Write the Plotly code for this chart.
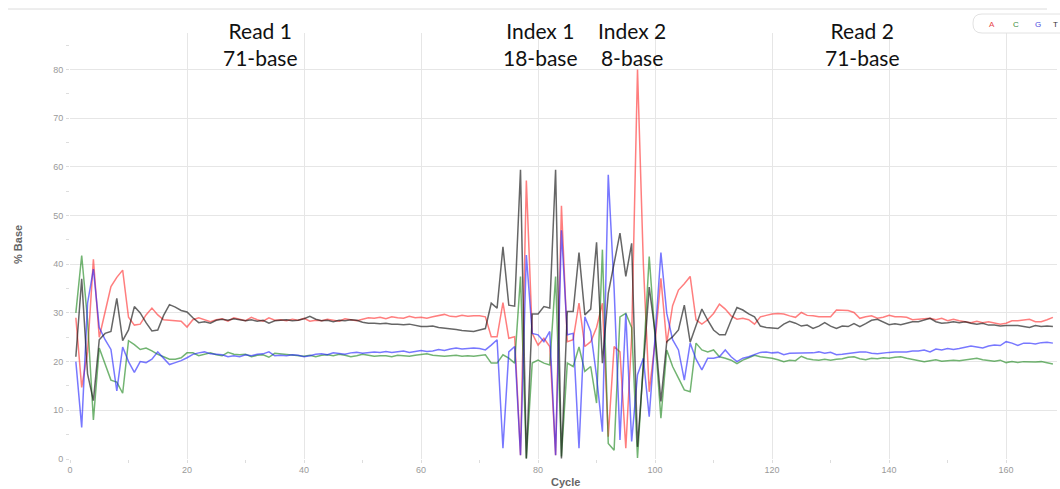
import plotly.graph_objects as go

# ---------------- data ----------------
cycles = list(range(1, 169))

pct_A = [
    29.0, 14.7, 22.0, 41.0, 25.0, 30.3, 35.4, 37.3, 38.8, 29.1,
    27.5, 27.7, 29.6, 31.0, 29.6, 28.6, 28.5, 28.5, 28.3, 27.1,
    28.6, 29.0, 28.6, 28.2, 28.6, 28.8, 28.3, 29.0, 28.7, 28.4,
    29.1, 28.6, 28.3, 29.0, 28.5, 28.6, 28.4, 28.7, 28.5, 28.9,
    28.3, 28.5, 28.4, 28.7, 28.5, 28.3, 28.8, 28.6, 28.4, 28.7,
    29.0, 28.9, 29.1, 28.8, 29.2, 29.0, 28.9, 29.3, 29.0, 29.1,
    28.9, 29.2, 29.4, 29.7, 29.3, 29.2, 29.5, 29.3, 29.4, 29.4,
    29.2, 25.1, 25.1, 32.1, 24.8, 25.1, 0.8, 57.2, 25.8, 23.4,
    24.8, 23.1, 0.8, 52.0, 24.1, 24.5, 32.0, 23.1, 24.1, 27.0,
    32.0, 4.6, 23.1, 22.0, 2.2, 25.0, 80.0, 40.0, 13.8, 24.0,
    37.1, 23.8, 31.5, 34.7, 36.0, 37.5, 28.6, 27.7, 28.6, 29.9,
    31.8, 30.8, 29.4, 28.7, 28.9, 28.6, 27.7, 29.2, 29.5, 29.8,
    29.9, 29.8, 29.4, 29.1, 30.1, 29.5, 29.4, 29.2, 29.2, 29.2,
    30.6, 30.6, 30.5, 30.1, 28.9, 29.2, 29.4, 28.9, 29.1, 29.5,
    29.2, 29.2, 29.1, 28.6, 28.7, 28.8, 28.9, 28.6, 28.9, 28.4,
    28.7, 28.4, 28.2, 28.0, 28.3, 28.0, 28.2, 27.9, 27.7, 27.9,
    28.4, 28.4, 28.6, 28.7, 28.2, 28.2, 28.6, 29.1,
]

pct_C = [
    30.0, 41.8, 28.5, 8.0, 22.8, 19.5, 16.2, 15.8, 13.5, 24.3,
    23.5, 22.5, 22.8, 22.2, 21.5, 21.0, 20.5, 20.5, 20.8, 21.8,
    21.8, 21.2, 21.5, 21.8, 21.4, 21.2, 21.9, 21.5, 21.4, 21.5,
    21.0, 21.3, 21.4, 20.9, 21.7, 21.6, 21.5, 21.4, 21.3, 21.1,
    21.3, 21.0, 21.3, 21.4, 21.2, 21.5, 21.3, 21.0, 21.2, 21.5,
    21.3, 21.1, 21.2, 21.2, 21.0, 21.3, 21.2, 21.1, 21.3, 21.4,
    21.6, 21.3, 21.2, 21.1, 21.2, 21.3, 21.1, 21.2, 21.1, 21.2,
    21.4, 19.7, 19.7, 21.4, 20.7, 19.7, 37.5, 0.1, 19.7, 20.3,
    19.7, 19.3, 37.5, 0.5, 19.7, 19.0, 23.0, 18.0, 19.0, 11.5,
    43.0, 3.2, 1.8, 29.2, 29.9, 27.0, 0.2, 20.0, 41.6, 25.0,
    8.4, 22.4, 19.0, 16.6, 14.2, 13.8, 23.8, 22.4, 22.0, 22.4,
    21.0, 20.7, 20.3, 19.6, 20.3, 20.8, 21.3, 21.0, 20.9, 20.7,
    20.4, 20.0, 20.3, 20.2, 21.1, 20.6, 20.4, 20.3, 20.5, 20.3,
    20.5, 20.6, 20.9, 21.0, 20.6, 20.4, 20.7, 20.6, 20.8, 20.7,
    20.9, 21.0, 20.7, 20.5, 20.2, 20.0, 20.2, 20.4, 20.1, 20.2,
    20.3, 20.2, 20.4, 20.6, 20.7, 20.4, 20.3, 20.1, 20.3, 19.8,
    20.0, 19.8, 20.0, 19.9, 19.9, 20.0, 19.8, 19.5,
]

pct_G = [
    20.0, 6.5, 32.0, 39.0, 27.0, 24.5, 22.5, 14.0, 23.0, 20.0,
    17.8, 20.0, 19.8, 20.5, 22.0, 20.8, 19.4, 19.8, 20.2, 20.8,
    21.5, 21.8, 22.0, 21.6, 21.5, 21.4, 21.0, 21.2, 21.0, 21.4,
    21.2, 21.5, 21.6, 22.0, 21.2, 21.3, 21.2, 21.4, 21.3, 21.0,
    21.2, 21.5, 21.6, 21.4, 21.8, 21.6, 21.5, 21.8, 21.9, 21.7,
    21.8, 22.0, 21.9, 22.1, 21.9, 22.0, 22.2, 21.9, 22.1, 22.3,
    22.1, 22.2, 22.5, 22.3, 22.6, 22.8, 22.6, 22.7, 22.8, 22.7,
    22.4, 23.4, 24.5, 2.2, 22.0, 23.1, 0.8, 41.9, 25.8, 25.5,
    24.1, 26.2, 0.8, 47.0, 25.5, 25.8, 2.2, 29.2, 26.2, 17.0,
    5.6, 58.4, 35.0, 3.9, 29.9, 3.6, 17.3, 20.7, 8.7, 25.0,
    42.4, 29.9, 24.5, 22.4, 16.2, 23.8, 20.5, 18.3, 20.7, 20.7,
    21.0, 22.4, 21.0, 20.0, 20.7, 21.0, 21.4, 21.9, 22.0, 21.8,
    21.9, 21.4, 21.7, 21.7, 21.8, 21.7, 21.8, 22.0, 21.7, 21.9,
    21.4, 21.5, 21.7, 21.8, 22.0, 22.0, 21.7, 21.6, 21.8, 21.9,
    22.0, 22.0, 22.0, 22.2, 22.2, 22.4, 22.0, 22.6, 22.4, 22.7,
    22.5, 22.7, 23.0, 23.2, 23.0, 22.8, 23.2, 23.4, 23.3, 24.1,
    23.8, 23.3, 23.8, 23.8, 23.6, 23.9, 24.0, 23.8,
]

pct_T = [
    21.0, 37.0, 17.5, 12.0, 24.5, 25.8, 26.2, 33.0, 24.3, 26.5,
    31.3, 30.0, 28.0, 26.3, 26.5, 29.5, 31.7, 31.2, 30.5, 30.2,
    29.0, 28.0, 28.2, 27.9, 28.5, 28.7, 28.5, 28.8, 28.6, 28.4,
    28.6, 28.3, 28.5, 27.9, 28.4, 28.5, 28.6, 28.4, 28.5, 28.8,
    29.3, 28.7, 28.4, 28.5, 28.2, 28.5, 28.4, 28.6, 28.5, 28.1,
    27.9, 27.9, 27.8, 27.9, 27.7, 27.7, 27.6, 27.7, 27.5, 27.2,
    27.2, 27.3, 27.0, 26.9, 26.7, 26.6, 26.4, 26.3, 26.2, 26.5,
    26.8, 32.0, 31.0, 43.6, 31.6, 31.4, 59.4, 0.1, 29.8, 29.8,
    31.3, 31.0, 59.4, 0.1, 30.3, 30.3, 42.4, 29.6, 30.8, 44.5,
    19.7, 34.0, 40.2, 46.4, 37.5, 44.3, 2.5, 19.0, 35.3, 26.0,
    11.8, 24.1, 25.1, 26.5, 31.6, 24.0, 27.5, 30.8, 28.5, 26.5,
    25.5, 25.5, 28.5, 31.1, 30.6, 29.8, 29.2, 27.3, 27.0, 26.9,
    26.8, 27.7, 28.3, 27.9, 27.3, 27.5, 26.8, 27.3, 28.0, 27.3,
    26.8, 27.3, 27.2, 27.8, 27.2, 27.8, 28.5, 28.7, 28.2, 27.6,
    27.8, 27.6, 27.9, 28.2, 28.2, 28.5, 28.9, 28.2, 27.9, 28.0,
    28.2, 28.0, 28.2, 27.9, 27.7, 27.9, 27.5, 27.5, 27.3, 27.4,
    27.4, 27.4, 27.2, 27.0, 27.4, 27.2, 27.3, 27.2,
]

bases = ["A", "C", "G", "T"]
series = [pct_A, pct_C, pct_G, pct_T]
line_colors = ["rgba(255,40,40,0.6)", "rgba(20,130,20,0.6)",
               "rgba(30,30,255,0.6)", "rgba(20,20,20,0.65)"]
legend_colors = ["#e8474a", "#3c8c3c", "#4a4ae0", "#333333"]

segments = ["Read 1<br>71-base", "Index 1<br>18-base", "Index 2<br>8-base", "Read 2<br>71-base"]
segment_centers = [32.5, 80.5, 96.0, 135.4]

x_ticks = list(range(0, 161, 20))
y_ticks = list(range(0, 81, 10))

# ---------------- figure ----------------
fig = go.Figure()
for name, vals, col in zip(bases, series, line_colors):
    fig.add_trace(go.Scatter(x=cycles, y=vals, mode="lines", name=name,
                             line=dict(color=col, width=1.5), showlegend=False))

W, H = 1060, 489
ML, MR, MT, MB = 70, 3, 33, 30
PW, PH = W - ML - MR, H - MT - MB


def px_x(p):
    return (p - ML) / PW


def px_y(p):
    return (H - MB - p) / PH


fig.update_layout(
    width=W, height=H,
    margin=dict(l=ML, r=MR, t=MT, b=MB),
    paper_bgcolor="white", plot_bgcolor="white",
    font=dict(family="Liberation Sans, Arial, sans-serif", color="#999999", size=9),
)

fig.update_xaxes(
    range=[0, 168.7], tickmode="array", tickvals=x_ticks,
    showgrid=True, gridcolor="#e6e6e6", gridwidth=1, zeroline=False, showline=False,
    ticks="outside", ticklen=2, tickcolor="rgba(0,0,0,0)",
    tickfont=dict(size=9, color="#9a9a9a"),
    minor=dict(dtick=10, tick0=0, ticks="outside", ticklen=3, tickcolor="#dddddd", showgrid=False),
)
fig.update_yaxes(
    range=[0, 87.5], tickmode="array", tickvals=y_ticks,
    showgrid=True, gridcolor="#e6e6e6", gridwidth=1, zeroline=False, showline=False,
    ticks="outside", ticklen=4, tickcolor="rgba(0,0,0,0)",
    tickfont=dict(size=9, color="#9a9a9a"),
    minor=dict(dtick=5, tick0=0, ticks="outside", ticklen=3, tickcolor="#dddddd", showgrid=False),
)

# segment labels
for txt, xc in zip(segments, segment_centers):
    fig.add_annotation(x=xc, xref="x", y=px_y(44), yref="paper", text=txt,
                       showarrow=False, xanchor="center", yanchor="middle",
                       font=dict(family="Lato, Open Sans, sans-serif", size=21, color="#111111"))

# axis titles
fig.add_annotation(x=px_x(18), y=px_y(245), xref="paper", yref="paper", text="<b>% Base</b>",
                   textangle=-90, showarrow=False, xanchor="center", yanchor="middle",
                   font=dict(size=11, color="#666666"))
fig.add_annotation(x=px_x(565), y=px_y(482), xref="paper", yref="paper", text="<b>Cycle</b>",
                   showarrow=False, xanchor="center", yanchor="middle",
                   font=dict(size=11, color="#666666"))

# top separator line
fig.add_shape(type="line", xref="paper", yref="paper",
              x0=px_x(8), x1=px_x(1047), y0=px_y(9), y1=px_y(9),
              line=dict(color="#dcdcdc", width=1))

# legend box (rounded, running off the right edge)
x0, x1, y0, y1, r = 973 - ML, 1075 - ML, H - MB - 33, H - MB - 14, 9
path = (f"M {x0+r},{y0} L {x1},{y0} L {x1},{y1} L {x0+r},{y1} "
        f"Q {x0},{y1} {x0},{y1-r} L {x0},{y0+r} Q {x0},{y0} {x0+r},{y0} Z")
fig.add_shape(type="path", path=path, xref="paper", yref="paper",
              xsizemode="pixel", ysizemode="pixel", xanchor=0, yanchor=0,
              line=dict(color="#e2e2e2", width=1), fillcolor="white")

legend_px = [992, 1016, 1038, 1055]
for name, col, lx in zip(bases, legend_colors, legend_px):
    fig.add_annotation(x=px_x(lx), y=px_y(24), xref="paper", yref="paper", text=name,
                       showarrow=False, xanchor="center", yanchor="middle",
                       font=dict(size=8, color=col))

fig.write_html("out.html",
               config={"displayModeBar": False},
               post_script="document.body.style.margin='0';document.body.style.overflow='hidden';")
